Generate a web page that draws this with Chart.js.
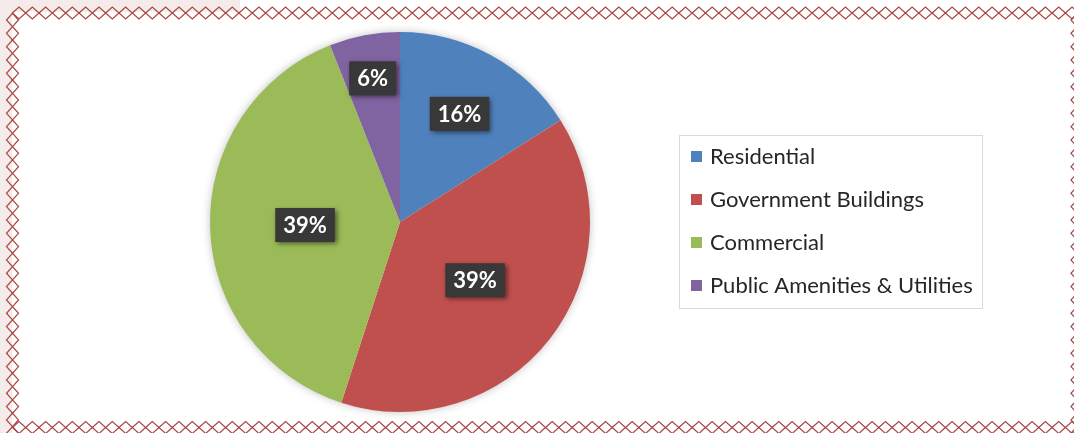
<!DOCTYPE html>
<html>
<head>
<meta charset="utf-8">
<script src="https://cdn.jsdelivr.net/npm/chart.js@4/dist/chart.umd.min.js"></script>
<style>
html, body { margin: 0; padding: 0; background: #fff; }
#wrap { position: relative; width: 1074px; height: 433px; }
</style>
</head>
<body>
<div id="wrap"><canvas id="landUse"></canvas></div>
<script>
var categories = ['Residential', 'Government Buildings', 'Commercial', 'Public Amenities & Utilities'];
var shares = [16, 39, 39, 6];
var colours = ['#4f81bd', '#c0504d', '#9bbb59', '#8064a2'];

// how far out (fraction of radius) each percentage box sits
var labelDepth = [0.65, 0.5, 0.5, 0.77];

var frame = {
	id: 'frame',
	beforeDraw: function(chart) {
		var ctx = chart.ctx, w = chart.width, h = chart.height;
		var step = 13.33;
		ctx.save();
		ctx.fillStyle = '#f3eceb';
		ctx.fillRect(0, 0, 12, h);
		ctx.fillRect(0, 0, 240, 12);
		ctx.strokeStyle = '#a94442';
		ctx.lineWidth = 1.2;

		function across(cx, cy) {
			ctx.beginPath();
			ctx.moveTo(cx - step / 2, cy);
			ctx.lineTo(cx, cy - 6);
			ctx.lineTo(cx + step / 2, cy);
			ctx.lineTo(cx, cy + 6);
			ctx.closePath();
			ctx.stroke();
		}
		function down(cx, cy) {
			ctx.beginPath();
			ctx.moveTo(cx, cy - step / 2);
			ctx.lineTo(cx + 6, cy);
			ctx.lineTo(cx, cy + step / 2);
			ctx.lineTo(cx - 6, cy);
			ctx.closePath();
			ctx.stroke();
		}
		for (var x = 19; x < w + step; x += step) {
			across(x, 13);
			across(x, 427.5);
		}
		for (var y = 20; y < h + step; y += step) {
			down(12.5, y);
			down(1077, y);
		}
		ctx.restore();
	}
};

var pieShadow = {
	id: 'pieShadow',
	beforeDatasetsDraw: function(chart) {
		var arc = chart.getDatasetMeta(0).data[0];
		if (!arc) return;
		var ctx = chart.ctx;
		ctx.save();
		ctx.shadowColor = 'rgba(0,0,0,0.3)';
		ctx.shadowBlur = 10;
		ctx.fillStyle = '#fff';
		ctx.beginPath();
		ctx.arc(arc.x, arc.y, arc.outerRadius - 1, 0, Math.PI * 2);
		ctx.fill();
		ctx.restore();
	}
};

var valueBoxes = {
	id: 'valueBoxes',
	afterDatasetsDraw: function(chart) {
		var ctx = chart.ctx;
		var values = chart.data.datasets[0].data;
		chart.getDatasetMeta(0).data.forEach(function(arc, i) {
			var mid = (arc.startAngle + arc.endAngle) / 2;
			var r = arc.outerRadius * labelDepth[i];
			var cx = arc.x + Math.cos(mid) * r;
			var cy = arc.y + Math.sin(mid) * r;
			var text = values[i] + '%';
			ctx.save();
			ctx.font = 'bold 22px Lato';
			var bw = ctx.measureText(text).width + 16, bh = 34;
			ctx.shadowColor = 'rgba(0,0,0,0.55)';
			ctx.shadowBlur = 5;
			ctx.shadowOffsetX = 2;
			ctx.shadowOffsetY = 2;
			ctx.fillStyle = '#383838';
			ctx.fillRect(cx - bw / 2, cy - bh / 2, bw, bh);
			ctx.shadowColor = 'transparent';
			ctx.fillStyle = '#fff';
			ctx.textAlign = 'center';
			ctx.textBaseline = 'middle';
			ctx.fillText(text, cx, cy + 1);
			ctx.restore();
		});
	}
};

var sideLegend = {
	id: 'sideLegend',
	afterDraw: function(chart) {
		var ctx = chart.ctx;
		var colors = chart.data.datasets[0].backgroundColor;
		ctx.save();
		ctx.strokeStyle = '#d9d9d9';
		ctx.lineWidth = 1;
		ctx.strokeRect(679.5, 135.5, 303, 173);
		ctx.font = '22px Lato';
		ctx.textBaseline = 'middle';
		chart.data.labels.forEach(function(label, i) {
			var y = 157 + i * 43;
			ctx.fillStyle = colors[i];
			ctx.fillRect(691, y - 6, 11, 11);
			ctx.fillStyle = '#262626';
			ctx.fillText(label, 710, y);
		});
		ctx.restore();
	}
};

Chart.defaults.font.family = 'Lato';

var landUseChart = new Chart(document.getElementById('landUse'), {
	type: 'pie',
	data: {
		labels: categories,
		datasets: [{
			data: shares,
			backgroundColor: colours,
			borderWidth: 0
		}]
	},
	options: {
		responsive: true,
		maintainAspectRatio: false,
		animation: false,
		layout: {
			padding: { left: 210, right: 484, top: 32, bottom: 21 }
		},
		plugins: {
			legend: { display: false },
			tooltip: { enabled: false }
		}
	},
	plugins: [frame, pieShadow, valueBoxes, sideLegend]
});
</script>
</body>
</html>
